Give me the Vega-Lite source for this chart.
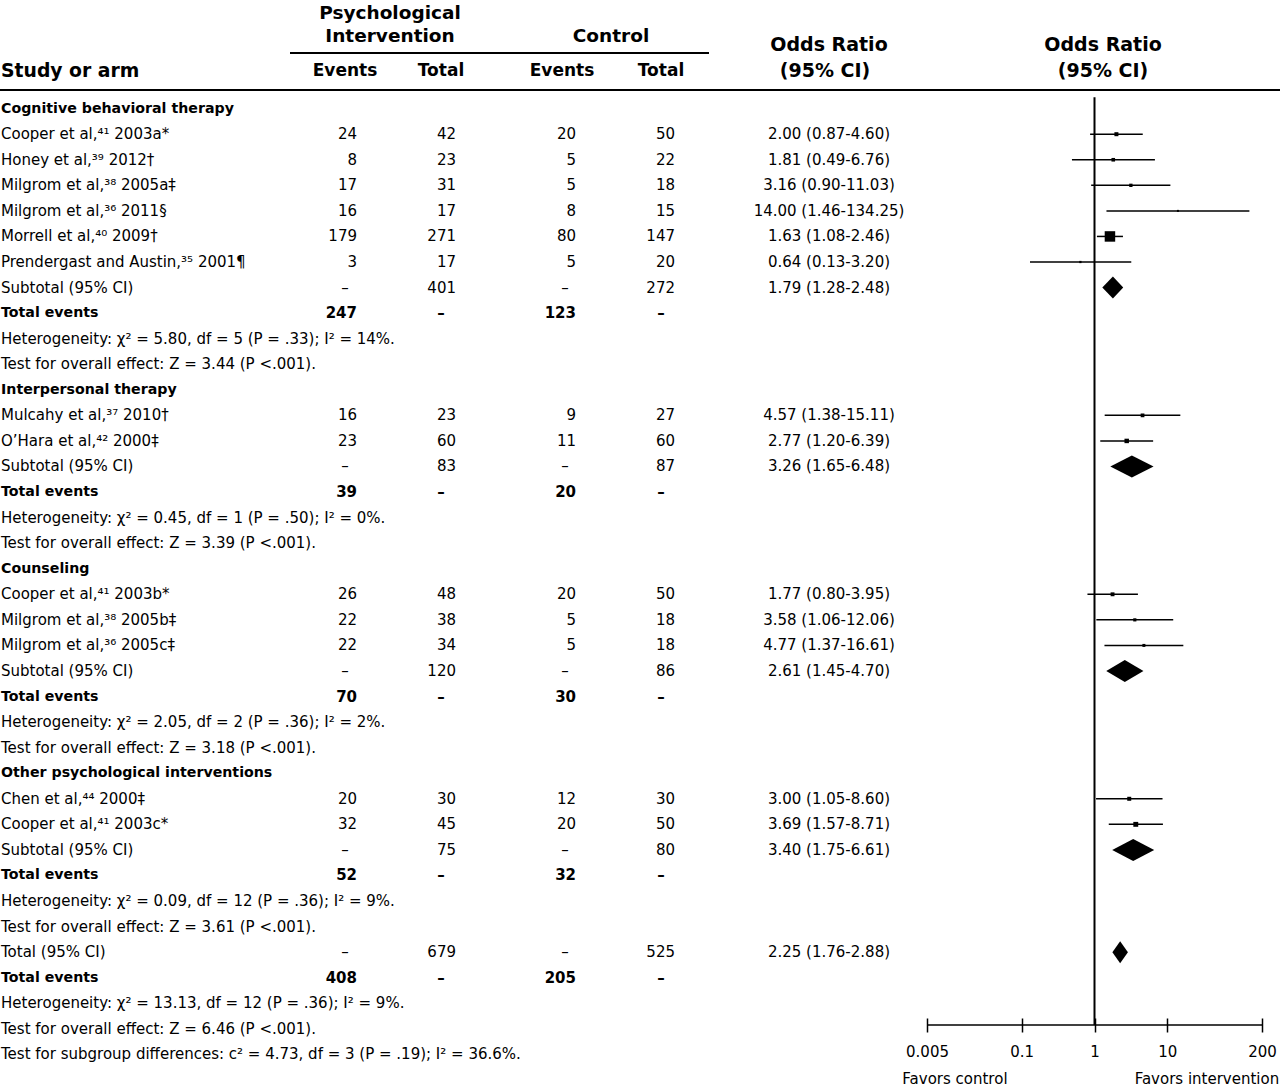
{
  "$schema": "https://vega.github.io/schema/vega-lite/v6.json",
  "width": 1280,
  "height": 1025,
  "autosize": {"type": "none"},
  "padding": {"left": 0, "top": 0, "right": 0, "bottom": 62},
  "background": "white",
  "config": {
    "view": {"stroke": null},
    "mark": {"color": "black"},
    "text": {"font": "DejaVu Sans", "fontSize": 15, "baseline": "middle"}
  },
  "datasets": {
    "rows": [
      {"row": 0, "kind": "group", "label": "Cognitive behavioral therapy"},
      {"row": 1, "kind": "study", "label": "Cooper et al,⁴¹ 2003a*", "ev1": "24", "tot1": "42", "ev2": "20", "tot2": "50", "ci": "2.00 (0.87-4.60)", "or": 2.00, "lo": 0.87, "hi": 4.60, "weight": 16},
      {"row": 2, "kind": "study", "label": "Honey et al,³⁹ 2012†", "ev1": "8", "tot1": "23", "ev2": "5", "tot2": "22", "ci": "1.81 (0.49-6.76)", "or": 1.81, "lo": 0.49, "hi": 6.76, "weight": 13},
      {"row": 3, "kind": "study", "label": "Milgrom et al,³⁸ 2005a‡", "ev1": "17", "tot1": "31", "ev2": "5", "tot2": "18", "ci": "3.16 (0.90-11.03)", "or": 3.16, "lo": 0.90, "hi": 11.03, "weight": 11},
      {"row": 4, "kind": "study", "label": "Milgrom et al,³⁶ 2011§", "ev1": "16", "tot1": "17", "ev2": "8", "tot2": "15", "ci": "14.00 (1.46-134.25)", "or": 14.00, "lo": 1.46, "hi": 134.25, "weight": 4},
      {"row": 5, "kind": "study", "label": "Morrell et al,⁴⁰ 2009†", "ev1": "179", "tot1": "271", "ev2": "80", "tot2": "147", "ci": "1.63 (1.08-2.46)", "or": 1.63, "lo": 1.08, "hi": 2.46, "weight": 110},
      {"row": 6, "kind": "study", "label": "Prendergast and Austin,³⁵ 2001¶", "ev1": "3", "tot1": "17", "ev2": "5", "tot2": "20", "ci": "0.64 (0.13-3.20)", "or": 0.64, "lo": 0.13, "hi": 3.20, "weight": 5},
      {"row": 7, "kind": "subtotal", "label": "Subtotal (95% CI)", "ev1": "–", "tot1": "401", "ev2": "–", "tot2": "272", "ci": "1.79 (1.28-2.48)"},
      {"row": 8, "kind": "events", "label": "Total events", "ev1": "247", "tot1": "–", "ev2": "123", "tot2": "–"},
      {"row": 9, "kind": "note", "label": "Heterogeneity: χ² = 5.80, df = 5 (P = .33); I² = 14%."},
      {"row": 10, "kind": "note", "label": "Test for overall effect: Z = 3.44 (P <.001)."},
      {"row": 11, "kind": "group", "label": "Interpersonal therapy"},
      {"row": 12, "kind": "study", "label": "Mulcahy et al,³⁷ 2010†", "ev1": "16", "tot1": "23", "ev2": "9", "tot2": "27", "ci": "4.57 (1.38-15.11)", "or": 4.57, "lo": 1.38, "hi": 15.11, "weight": 14},
      {"row": 13, "kind": "study", "label": "O’Hara et al,⁴² 2000‡", "ev1": "23", "tot1": "60", "ev2": "11", "tot2": "60", "ci": "2.77 (1.20-6.39)", "or": 2.77, "lo": 1.20, "hi": 6.39, "weight": 20},
      {"row": 14, "kind": "subtotal", "label": "Subtotal (95% CI)", "ev1": "–", "tot1": "83", "ev2": "–", "tot2": "87", "ci": "3.26 (1.65-6.48)"},
      {"row": 15, "kind": "events", "label": "Total events", "ev1": "39", "tot1": "–", "ev2": "20", "tot2": "–"},
      {"row": 16, "kind": "note", "label": "Heterogeneity: χ² = 0.45, df = 1 (P = .50); I² = 0%."},
      {"row": 17, "kind": "note", "label": "Test for overall effect: Z = 3.39 (P <.001)."},
      {"row": 18, "kind": "group", "label": "Counseling"},
      {"row": 19, "kind": "study", "label": "Cooper et al,⁴¹ 2003b*", "ev1": "26", "tot1": "48", "ev2": "20", "tot2": "50", "ci": "1.77 (0.80-3.95)", "or": 1.77, "lo": 0.80, "hi": 3.95, "weight": 15},
      {"row": 20, "kind": "study", "label": "Milgrom et al,³⁸ 2005b‡", "ev1": "22", "tot1": "38", "ev2": "5", "tot2": "18", "ci": "3.58 (1.06-12.06)", "or": 3.58, "lo": 1.06, "hi": 12.06, "weight": 10},
      {"row": 21, "kind": "study", "label": "Milgrom et al,³⁶ 2005c‡", "ev1": "22", "tot1": "34", "ev2": "5", "tot2": "18", "ci": "4.77 (1.37-16.61)", "or": 4.77, "lo": 1.37, "hi": 16.61, "weight": 9},
      {"row": 22, "kind": "subtotal", "label": "Subtotal (95% CI)", "ev1": "–", "tot1": "120", "ev2": "–", "tot2": "86", "ci": "2.61 (1.45-4.70)"},
      {"row": 23, "kind": "events", "label": "Total events", "ev1": "70", "tot1": "–", "ev2": "30", "tot2": "–"},
      {"row": 24, "kind": "note", "label": "Heterogeneity: χ² = 2.05, df = 2 (P = .36); I² = 2%."},
      {"row": 25, "kind": "note", "label": "Test for overall effect: Z = 3.18 (P <.001)."},
      {"row": 26, "kind": "group", "label": "Other psychological interventions"},
      {"row": 27, "kind": "study", "label": "Chen et al,⁴⁴ 2000‡", "ev1": "20", "tot1": "30", "ev2": "12", "tot2": "30", "ci": "3.00 (1.05-8.60)", "or": 3.00, "lo": 1.05, "hi": 8.60, "weight": 16},
      {"row": 28, "kind": "study", "label": "Cooper et al,⁴¹ 2003c*", "ev1": "32", "tot1": "45", "ev2": "20", "tot2": "50", "ci": "3.69 (1.57-8.71)", "or": 3.69, "lo": 1.57, "hi": 8.71, "weight": 24},
      {"row": 29, "kind": "subtotal", "label": "Subtotal (95% CI)", "ev1": "–", "tot1": "75", "ev2": "–", "tot2": "80", "ci": "3.40 (1.75-6.61)"},
      {"row": 30, "kind": "events", "label": "Total events", "ev1": "52", "tot1": "–", "ev2": "32", "tot2": "–"},
      {"row": 31, "kind": "note", "label": "Heterogeneity: χ² = 0.09, df = 12 (P = .36); I² = 9%."},
      {"row": 32, "kind": "note", "label": "Test for overall effect: Z = 3.61 (P <.001)."},
      {"row": 33, "kind": "subtotal", "label": "Total (95% CI)", "ev1": "–", "tot1": "679", "ev2": "–", "tot2": "525", "ci": "2.25 (1.76-2.88)"},
      {"row": 34, "kind": "events", "label": "Total events", "ev1": "408", "tot1": "–", "ev2": "205", "tot2": "–"},
      {"row": 35, "kind": "note", "label": "Heterogeneity: χ² = 13.13, df = 12 (P = .36); I² = 9%."},
      {"row": 36, "kind": "note", "label": "Test for overall effect: Z = 6.46 (P <.001)."},
      {"row": 37, "kind": "note", "label": "Test for subgroup differences: c² = 4.73, df = 3 (P = .19); I² = 36.6%."}
    ],
    "diamonds": [
      {"pool": "Cognitive behavioral therapy", "x": 1.28, "y": 7, "y2": 7},
      {"pool": "Cognitive behavioral therapy", "x": 1.79, "y": 6.57, "y2": 7.43},
      {"pool": "Cognitive behavioral therapy", "x": 2.48, "y": 7, "y2": 7},
      {"pool": "Interpersonal therapy", "x": 1.65, "y": 14, "y2": 14},
      {"pool": "Interpersonal therapy", "x": 3.26, "y": 13.57, "y2": 14.43},
      {"pool": "Interpersonal therapy", "x": 6.48, "y": 14, "y2": 14},
      {"pool": "Counseling", "x": 1.45, "y": 22, "y2": 22},
      {"pool": "Counseling", "x": 2.61, "y": 21.57, "y2": 22.43},
      {"pool": "Counseling", "x": 4.70, "y": 22, "y2": 22},
      {"pool": "Other psychological interventions", "x": 1.75, "y": 29, "y2": 29},
      {"pool": "Other psychological interventions", "x": 3.40, "y": 28.57, "y2": 29.43},
      {"pool": "Other psychological interventions", "x": 6.61, "y": 29, "y2": 29},
      {"pool": "Total", "x": 1.76, "y": 33, "y2": 33},
      {"pool": "Total", "x": 2.25, "y": 32.57, "y2": 33.43},
      {"pool": "Total", "x": 2.88, "y": 33, "y2": 33}
    ]
  },
  "resolve": {"scale": {"x": "independent"}, "axis": {"x": "independent"}},
  "layer": [
    {
      "data": {"name": "rows"},
      "layer": [
        {
          "mark": {"type": "text", "align": "left",
            "fontWeight": {"expr": "datum.kind === 'group' || datum.kind === 'events' ? 'bold' : 'normal'"},
            "fontSize": {"expr": "datum.kind === 'group' || datum.kind === 'events' ? 14.2 : 15"}},
          "encoding": {
            "x": {"datum": 1, "type": "quantitative", "scale": {"domain": [0, 1280], "nice": false, "zero": false}, "axis": null},
            "y": {"field": "row", "type": "quantitative", "scale": {"domain": [-4.25, 35.85], "reverse": true, "zero": false, "nice": false}, "axis": null},
            "text": {"field": "label"}
          }
        },
        {
          "transform": [{"filter": "datum.ev1 && datum.ev1 !== '–'"}],
          "mark": {"type": "text", "align": "right", "fontWeight": {"expr": "datum.kind === 'events' ? 'bold' : 'normal'"}},
          "encoding": {"x": {"datum": 357}, "y": {"field": "row", "type": "quantitative", "axis": null}, "text": {"field": "ev1"}}
        },
        {
          "transform": [{"filter": "datum.ev1 === '–'"}],
          "mark": {"type": "text", "align": "center", "fontWeight": {"expr": "datum.kind === 'events' ? 'bold' : 'normal'"}},
          "encoding": {"x": {"datum": 345}, "y": {"field": "row", "type": "quantitative", "axis": null}, "text": {"field": "ev1"}}
        },
        {
          "transform": [{"filter": "datum.tot1 && datum.tot1 !== '–'"}],
          "mark": {"type": "text", "align": "right", "fontWeight": {"expr": "datum.kind === 'events' ? 'bold' : 'normal'"}},
          "encoding": {"x": {"datum": 456}, "y": {"field": "row", "type": "quantitative", "axis": null}, "text": {"field": "tot1"}}
        },
        {
          "transform": [{"filter": "datum.tot1 === '–'"}],
          "mark": {"type": "text", "align": "center", "fontWeight": {"expr": "datum.kind === 'events' ? 'bold' : 'normal'"}},
          "encoding": {"x": {"datum": 441}, "y": {"field": "row", "type": "quantitative", "axis": null}, "text": {"field": "tot1"}}
        },
        {
          "transform": [{"filter": "datum.ev2 && datum.ev2 !== '–'"}],
          "mark": {"type": "text", "align": "right", "fontWeight": {"expr": "datum.kind === 'events' ? 'bold' : 'normal'"}},
          "encoding": {"x": {"datum": 576}, "y": {"field": "row", "type": "quantitative", "axis": null}, "text": {"field": "ev2"}}
        },
        {
          "transform": [{"filter": "datum.ev2 === '–'"}],
          "mark": {"type": "text", "align": "center", "fontWeight": {"expr": "datum.kind === 'events' ? 'bold' : 'normal'"}},
          "encoding": {"x": {"datum": 565}, "y": {"field": "row", "type": "quantitative", "axis": null}, "text": {"field": "ev2"}}
        },
        {
          "transform": [{"filter": "datum.tot2 && datum.tot2 !== '–'"}],
          "mark": {"type": "text", "align": "right", "fontWeight": {"expr": "datum.kind === 'events' ? 'bold' : 'normal'"}},
          "encoding": {"x": {"datum": 675}, "y": {"field": "row", "type": "quantitative", "axis": null}, "text": {"field": "tot2"}}
        },
        {
          "transform": [{"filter": "datum.tot2 === '–'"}],
          "mark": {"type": "text", "align": "center", "fontWeight": {"expr": "datum.kind === 'events' ? 'bold' : 'normal'"}},
          "encoding": {"x": {"datum": 661}, "y": {"field": "row", "type": "quantitative", "axis": null}, "text": {"field": "tot2"}}
        },
        {
          "transform": [{"filter": "datum.ci"}],
          "mark": {"type": "text", "align": "center"},
          "encoding": {"x": {"datum": 829}, "y": {"field": "row", "type": "quantitative", "axis": null}, "text": {"field": "ci"}}
        },
        {
          "data": {"values": [{}]},
          "mark": {"type": "text", "align": "center", "fontWeight": "bold", "fontSize": 18.5},
          "encoding": {"x": {"datum": 390}, "y": {"datum": -3.74, "axis": null}, "text": {"value": "Psychological"}}
        },
        {
          "data": {"values": [{}]},
          "mark": {"type": "text", "align": "center", "fontWeight": "bold", "fontSize": 18.5},
          "encoding": {"x": {"datum": 390}, "y": {"datum": -2.84, "axis": null}, "text": {"value": "Intervention"}}
        },
        {
          "data": {"values": [{}]},
          "mark": {"type": "text", "align": "center", "fontWeight": "bold", "fontSize": 18.5},
          "encoding": {"x": {"datum": 611}, "y": {"datum": -2.84, "axis": null}, "text": {"value": "Control"}}
        },
        {
          "data": {"values": [{}]},
          "mark": {"type": "text", "align": "center", "fontWeight": "bold", "fontSize": 19},
          "encoding": {"x": {"datum": 829}, "y": {"datum": -2.49, "axis": null}, "text": {"value": "Odds Ratio"}}
        },
        {
          "data": {"values": [{}]},
          "mark": {"type": "text", "align": "center", "fontWeight": "bold", "fontSize": 19},
          "encoding": {"x": {"datum": 825}, "y": {"datum": -1.47, "axis": null}, "text": {"value": "(95% CI)"}}
        },
        {
          "data": {"values": [{}]},
          "mark": {"type": "text", "align": "left", "fontWeight": "bold", "fontSize": 18.8},
          "encoding": {"x": {"datum": 1}, "y": {"datum": -1.47, "axis": null}, "text": {"value": "Study or arm"}}
        },
        {
          "data": {"values": [{}]},
          "mark": {"type": "text", "align": "center", "fontWeight": "bold", "fontSize": 17},
          "encoding": {"x": {"datum": 345}, "y": {"datum": -1.47, "axis": null}, "text": {"value": "Events"}}
        },
        {
          "data": {"values": [{}]},
          "mark": {"type": "text", "align": "center", "fontWeight": "bold", "fontSize": 17},
          "encoding": {"x": {"datum": 441}, "y": {"datum": -1.47, "axis": null}, "text": {"value": "Total"}}
        },
        {
          "data": {"values": [{}]},
          "mark": {"type": "text", "align": "center", "fontWeight": "bold", "fontSize": 17},
          "encoding": {"x": {"datum": 562}, "y": {"datum": -1.47, "axis": null}, "text": {"value": "Events"}}
        },
        {
          "data": {"values": [{}]},
          "mark": {"type": "text", "align": "center", "fontWeight": "bold", "fontSize": 17},
          "encoding": {"x": {"datum": 661}, "y": {"datum": -1.47, "axis": null}, "text": {"value": "Total"}}
        },
        {
          "data": {"values": [{}]},
          "mark": {"type": "rule", "strokeWidth": 2},
          "encoding": {"x": {"datum": 290}, "x2": {"datum": 709}, "y": {"datum": -2.18, "axis": null}}
        },
        {
          "data": {"values": [{}]},
          "mark": {"type": "rule", "strokeWidth": 2},
          "encoding": {"x": {"datum": 0}, "x2": {"datum": 1280}, "y": {"datum": -0.73, "axis": null}}
        }
      ]
    },
    {
      "layer": [
        {
          "data": {"values": [{}]},
          "mark": {"type": "rule", "strokeWidth": 2},
          "encoding": {
            "x": {"datum": 1, "type": "quantitative", "scale": {"type": "log", "domain": [0.005, 200], "range": [927, 1262], "nice": false},
              "axis": {"values": [0.005, 0.1, 1, 10, 200], "format": "~g", "title": null, "grid": false, "domain": false, "orient": "bottom",
                "tickSize": 14, "tickWidth": 1.5, "tickColor": "black", "offset": -7,
                "labelFont": "DejaVu Sans", "labelFontSize": 15, "labelColor": "black", "labelPadding": 12, "labelFlush": false, "labelOverlap": false}},
            "y": {"datum": -0.45, "axis": null},
            "y2": {"datum": 35.85}
          }
        },
        {
          "data": {"values": [{}]},
          "mark": {"type": "rule", "strokeWidth": 1.5},
          "encoding": {"x": {"datum": 0.005}, "x2": {"datum": 200}, "y": {"datum": 35.85, "axis": null}}
        },
        {
          "data": {"name": "rows"},
          "transform": [{"filter": "datum.kind === 'study'"}],
          "mark": {"type": "rule", "strokeWidth": 1.5},
          "encoding": {"x": {"field": "lo", "type": "quantitative"}, "x2": {"field": "hi"}, "y": {"field": "row", "type": "quantitative", "axis": null}}
        },
        {
          "data": {"name": "rows"},
          "transform": [{"filter": "datum.kind === 'study'"}],
          "mark": {"type": "point", "shape": "square", "filled": true, "opacity": 1},
          "encoding": {
            "x": {"field": "or", "type": "quantitative"},
            "y": {"field": "row", "type": "quantitative", "axis": null},
            "size": {"field": "weight", "type": "quantitative", "scale": {"domain": [0, 110], "range": [0, 110]}, "legend": null}
          }
        },
        {
          "data": {"name": "diamonds"},
          "mark": {"type": "area", "orient": "vertical", "opacity": 1},
          "encoding": {
            "x": {"field": "x", "type": "quantitative"},
            "y": {"field": "y", "type": "quantitative", "axis": null},
            "y2": {"field": "y2"},
            "detail": {"field": "pool", "type": "nominal"}
          }
        },
        {
          "data": {"values": [{}]},
          "mark": {"type": "text", "align": "center", "fontWeight": "bold", "fontSize": 19},
          "encoding": {"x": {"datum": 1.31}, "y": {"datum": -2.49, "axis": null}, "text": {"value": "Odds Ratio"}}
        },
        {
          "data": {"values": [{}]},
          "mark": {"type": "text", "align": "center", "fontWeight": "bold", "fontSize": 19},
          "encoding": {"x": {"datum": 1.31}, "y": {"datum": -1.47, "axis": null}, "text": {"value": "(95% CI)"}}
        },
        {
          "data": {"values": [{}]},
          "mark": {"type": "text", "align": "center"},
          "encoding": {"x": {"datum": 0.0121}, "y": {"datum": 37.95, "axis": null}, "text": {"value": "Favors control"}}
        },
        {
          "data": {"values": [{}]},
          "mark": {"type": "text", "align": "center"},
          "encoding": {"x": {"datum": 35}, "y": {"datum": 37.95, "axis": null}, "text": {"value": "Favors intervention"}}
        }
      ]
    }
  ]
}
